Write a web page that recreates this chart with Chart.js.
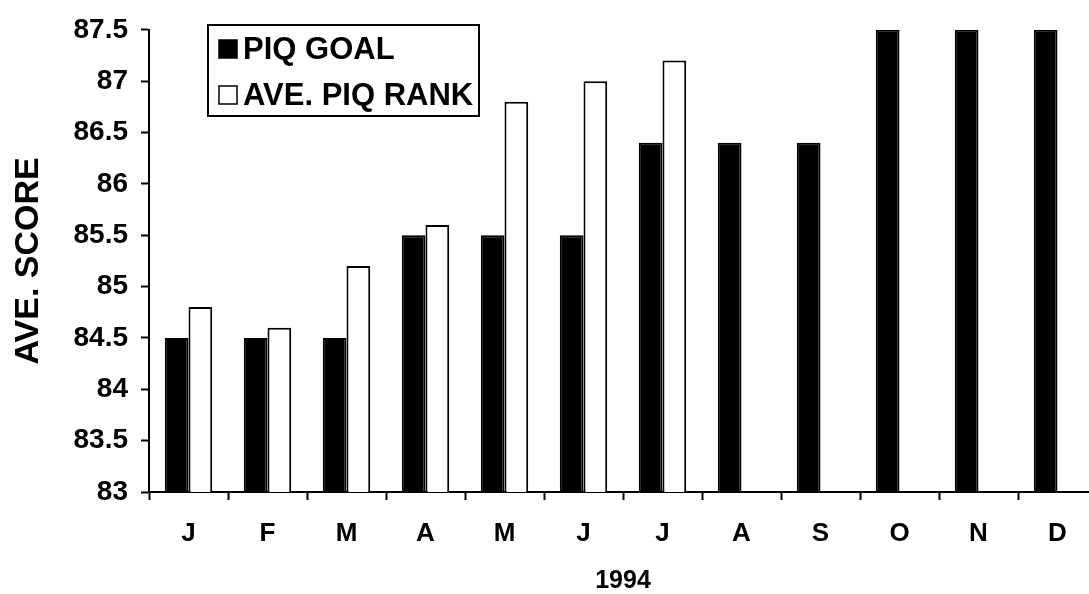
<!DOCTYPE html>
<html>
<head>
<meta charset="utf-8">
<script src="https://cdn.jsdelivr.net/npm/chart.js@4/dist/chart.umd.min.js"></script>
<style>
  html, body { margin: 0; padding: 0; background: #fff; overflow: hidden; }
  #wrap { position: relative; width: 1100px; height: 594px; }
</style>
</head>
<body>
<div id="wrap"><canvas id="c"></canvas></div>
<script>
// Months of 1994
const months = ['J', 'F', 'M', 'A', 'M', 'J', 'J', 'A', 'S', 'O', 'N', 'D'];
// Target score per month
const piqGoal = [84.5, 84.5, 84.5, 85.5, 85.5, 85.5, 86.4, 86.4, 86.4, 87.5, 87.5, 87.5];
// Average rank achieved (reported through July)
const avePiqRank = [84.8, 84.6, 85.2, 85.6, 86.8, 87.0, 87.2, null, null, null, null, null];
// Value axis range and labels
const yMin = 83;
const yMax = 87.5;
const yStep = 0.5;
const yTitle = 'AVE. SCORE';
const xTitle = '1994';

const FONT = '"Liberation Sans", Arial, Helvetica, sans-serif';

// Boxed legend drawn inside the plot area, upper left
const boxLegend = {
  id: 'boxLegend',
  afterDraw(chart, args, opts) {
    const ctx = chart.ctx;
    ctx.save();
    ctx.lineWidth = 2;
    ctx.strokeStyle = '#000';
    ctx.strokeRect(opts.x, opts.y, opts.w, opts.h);
    ctx.font = 'bold ' + opts.fontSize + 'px ' + FONT;
    ctx.textBaseline = 'middle';
    ctx.textAlign = 'left';
    chart.data.datasets.forEach((ds, i) => {
      const cy = opts.y + opts.first + i * opts.gap;
      const sx = opts.x + 11;
      ctx.fillStyle = ds.backgroundColor;
      ctx.fillRect(sx, cy - 9, 18, 18);
      ctx.lineWidth = 1.5;
      ctx.strokeStyle = '#000';
      ctx.strokeRect(sx, cy - 9, 18, 18);
      ctx.fillStyle = '#000';
      ctx.fillText(ds.label, sx + 24, cy + 1);
    });
    ctx.restore();
  }
};

new Chart(document.getElementById('c'), {
  type: 'bar',
  data: {
    labels: months,
    datasets: [
      {
        label: 'PIQ GOAL',
        data: piqGoal,
        backgroundColor: '#000000',
        borderColor: '#000000',
        borderWidth: 2
      },
      {
        label: 'AVE. PIQ RANK',
        data: avePiqRank,
        backgroundColor: '#ffffff',
        borderColor: '#000000',
        borderWidth: 2
      }
    ]
  },
  plugins: [boxLegend],
  options: {
    responsive: true,
    maintainAspectRatio: false,
    animation: false,
    layout: { padding: { top: 24, right: 3, left: 0, bottom: 0 } },
    datasets: {
      bar: { barPercentage: 1.0, categoryPercentage: 0.6 }
    },
    plugins: {
      legend: { display: false },
      tooltip: { enabled: false },
      boxLegend: { x: 208, y: 25, w: 271, h: 91, first: 24, gap: 46, fontSize: 31 }
    },
    scales: {
      x: {
        grid: {
          display: true,
          drawOnChartArea: false,
          drawTicks: true,
          tickLength: 8,
          tickWidth: 2,
          tickColor: '#000',
          offset: true
        },
        border: { display: true, color: '#000', width: 2 },
        ticks: {
          color: '#000',
          padding: 18,
          font: { family: FONT, size: 26, weight: 'bold' },
          maxRotation: 0,
          autoSkip: false
        },
        title: {
          display: true,
          text: xTitle,
          color: '#000',
          font: { family: FONT, size: 25, weight: 'bold', lineHeight: 1.0 },
          padding: { top: 21, bottom: 0 }
        },
        afterFit(scale) { scale.height = 102; }
      },
      y: {
        min: yMin,
        max: yMax,
        grid: {
          display: true,
          drawOnChartArea: false,
          drawTicks: true,
          tickLength: 8,
          tickWidth: 2,
          tickColor: '#000'
        },
        border: { display: true, color: '#000', width: 2 },
        ticks: {
          stepSize: yStep,
          color: '#000',
          padding: 13,
          font: { family: FONT, size: 28, weight: 'bold' },
          callback: (v) => String(Number(v.toFixed(1)))
        },
        title: {
          display: true,
          text: yTitle,
          color: '#000',
          font: { family: FONT, size: 34, weight: 'bold' },
          padding: { top: 8, bottom: 10 }
        },
        afterFit(scale) { scale.width = 149; }
      }
    }
  }
});
</script>
</body>
</html>
